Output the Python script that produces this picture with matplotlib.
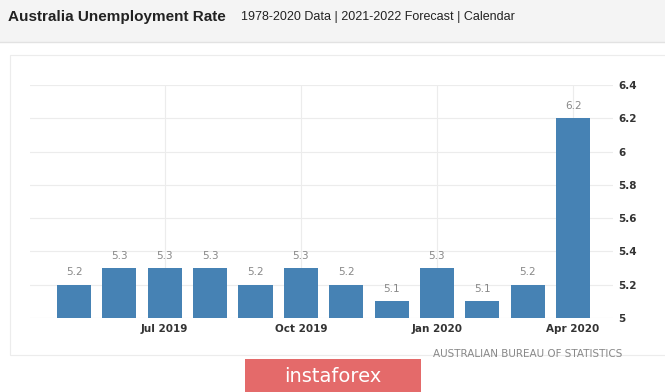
import matplotlib.pyplot as plt
from matplotlib.patches import Rectangle

months = ["May 2019", "Jun 2019", "Jul 2019", "Aug 2019", "Sep 2019", "Oct 2019",
          "Nov 2019", "Dec 2019", "Jan 2020", "Feb 2020", "Mar 2020", "Apr 2020"]
rates = [5.2, 5.3, 5.3, 5.3, 5.2, 5.3, 5.2, 5.1, 5.3, 5.1, 5.2, 6.2]
xtick_labels = ["Jul 2019", "Oct 2019", "Jan 2020", "Apr 2020"]
yticks = [5, 5.2, 5.4, 5.6, 5.8, 6, 6.2, 6.4]

W, H = 665, 392
fig = plt.figure(figsize=(W / 100, H / 100), dpi=100)
fig.patch.set_facecolor("white")

# header band
fig.patches.append(Rectangle((0, 1 - 42 / H), 1, 42 / H, transform=fig.transFigure,
                             facecolor="#f4f4f4", edgecolor="none", zorder=0))
fig.lines.append(plt.Line2D([0, 1], [1 - 42 / H] * 2, transform=fig.transFigure,
                            color="#e2e2e2", lw=1))
fig.text(8 / W, 1 - 17 / H, "Australia Unemployment Rate", fontsize=11, fontweight="bold",
         color="#222222", va="center", family="Liberation Sans")
fig.text(241 / W, 1 - 17 / H, "1978-2020 Data | 2021-2022 Forecast | Calendar", fontsize=9,
         color="#222222", va="center", family="Liberation Sans")

# panel
fig.patches.append(Rectangle((10 / W, 1 - 355 / H), 660 / W, 300 / H, transform=fig.transFigure,
                             facecolor="white", edgecolor="#ececec", lw=0.8, zorder=0))

ax = fig.add_axes([30 / W, 1 - 318 / H, 583 / W, 233 / H])
ax.set_zorder(2)
x = list(range(len(months)))
ax.bar(x, rates, width=0.75, color="#4682b4", zorder=3)
for xi, r in zip(x, rates):
    ax.text(xi, r + 0.045, f"{r:g}", ha="center", va="bottom", fontsize=7.5, color="#888888")

ax.set_ylim(5, 6.4)
ax.set_xlim(-0.97, 11.88)
ax.set_yticks(yticks)
ax.set_yticklabels([f"{t:g}" for t in yticks])
ax.yaxis.tick_right()
ax.set_xticks([months.index(m) for m in xtick_labels])
ax.set_xticklabels(xtick_labels)
ax.tick_params(axis="both", length=0, labelsize=7.5, colors="#333333")
ax.tick_params(axis="y", pad=4)
ax.tick_params(axis="x", pad=4)
for lbl in ax.get_xticklabels() + ax.get_yticklabels():
    lbl.set_fontweight("bold")
ax.grid(True, color="#ececec", lw=0.8, zorder=0)
for s in ax.spines.values():
    s.set_visible(False)
ax.set_facecolor("none")

fig.text(622 / W, 1 - 354 / H, "AUSTRALIAN BUREAU OF STATISTICS", fontsize=7.5,
         color="#888888", ha="right", va="center")

# watermark
fig.patches.append(Rectangle((245 / W, 0), 176 / W, 33 / H, transform=fig.transFigure,
                             facecolor="#e46a6a", edgecolor="none", zorder=5))
fig.text(333 / W, 16 / H, "instaforex", fontsize=14, color="white", ha="center",
         va="center", zorder=6)

fig.savefig("out.png", dpi=100)
